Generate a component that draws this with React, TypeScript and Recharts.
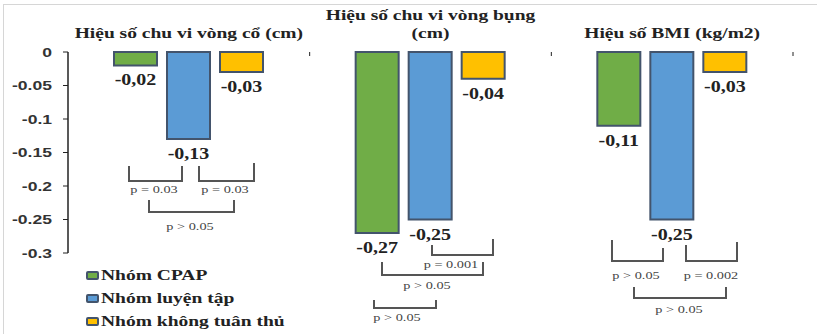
import React from "react";
import { BarChart, Bar, XAxis, YAxis, Legend, LabelList } from "recharts";

// --- data ---
const categories = ["Hiệu số chu vi vòng cổ (cm)", "Hiệu số chu vi vòng bụng (cm)", "Hiệu số BMI (kg/m2)"];
const titleLines = [["Hiệu số chu vi vòng cổ (cm)"], ["Hiệu số chu vi vòng bụng", "(cm)"], ["Hiệu số BMI (kg/m2)"]];
const cpap = [-0.02, -0.27, -0.11];
const luyenTap = [-0.13, -0.25, -0.25];
const khongTuanThu = [-0.03, -0.04, -0.03];
const yTicks = [0, -0.05, -0.1, -0.15, -0.2, -0.25, -0.3];

const seriesNames = ["Nhóm CPAP", "Nhóm luyện tập", "Nhóm không tuân thủ"];
const seriesColors = ["#70AD47", "#5B9BD5", "#FFC000"];

// significance brackets (annotation layout, pixels)
const brackets = [
  { x1: 129, t1: 166, x2: 182, t2: 166, b: 181, label: "p = 0.03", lx: 154, ly: 193 },
  { x1: 199, t1: 166, x2: 254, t2: 163, b: 181, label: "p = 0.03", lx: 225, ly: 193 },
  { x1: 149, t1: 200, x2: 234, t2: 200, b: 212, label: "p > 0.05", lx: 190, ly: 230 },
  { x1: 432, t1: 245, x2: 493, t2: 239, b: 255, label: "p = 0.001", lx: 451, ly: 268 },
  { x1: 382, t1: 262, x2: 483, t2: 262, b: 275, label: "p > 0.05", lx: 427, ly: 289 },
  { x1: 374, t1: 300, x2: 436, t2: 300, b: 308, label: "p > 0.05", lx: 397, ly: 321 },
  { x1: 612, t1: 240, x2: 663, t2: 248, b: 261, label: "p > 0.05", lx: 636, ly: 279 },
  { x1: 686, t1: 245, x2: 737, t2: 242, b: 261, label: "p = 0.002", lx: 711, ly: 279 },
  { x1: 634, t1: 287, x2: 726, t2: 287, b: 298, label: "p > 0.05", lx: 679, ly: 313 },
];

const data = categories.map((name, i) => ({
  name,
  cpap: cpap[i],
  luyenTap: luyenTap[i],
  khongTuanThu: khongTuanThu[i],
}));

const W = 817;
const H = 334;
const PLOT_LEFT = 68;
const PLOT_TOP = 52;
const PLOT_RIGHT = 793;
const CAT_W = (PLOT_RIGHT - PLOT_LEFT) / categories.length;
const SERIF = "'Liberation Serif', 'Times New Roman', serif";
const SANS = "'Liberation Sans', Arial, sans-serif";
const STRETCH = 1.3;
const BORDER = "#43546c";

const YTick = (props: any) => {
  const { x, y, payload } = props;
  return (
    <text
      transform={`translate(${x},${y}) scale(${STRETCH},1)`}
      textAnchor="end"
      dominantBaseline="central"
      fontFamily={SANS}
      fontWeight="bold"
      fontSize={13.5}
      fill="#333"
    >
      {String(payload.value)}
    </text>
  );
};

const ValueLabel = (props: any) => {
  const { x, y, width, height, value } = props;
  const bottom = Math.max(y, y + height);
  return (
    <text
      transform={`translate(${x + width / 2},${bottom + 20}) scale(1.25,1)`}
      textAnchor="middle"
      fontFamily={SERIF}
      fontWeight="bold"
      fontSize={16}
      fill="#222"
    >
      {Number(value).toFixed(2).replace(".", ",")}
    </text>
  );
};

const LegendContent = () => (
  <div style={{ fontFamily: SERIF, fontWeight: "bold", fontSize: 15, color: "#222" }}>
    {seriesNames.map((n, i) => (
      <div key={n} style={{ height: 23, display: "flex", alignItems: "center" }}>
        <span
          style={{
            width: 9,
            height: 5,
            border: `2px solid ${BORDER}`,
            borderRadius: 2,
            background: seriesColors[i],
            marginRight: 2,
          }}
        />
        <span style={{ transform: `scaleX(${STRETCH})`, transformOrigin: "left center", whiteSpace: "nowrap" }}>{n}</span>
      </div>
    ))}
  </div>
);

export default function App() {
  return (
    <div style={{ position: "absolute", left: 0, top: 0, width: W, height: H, background: "#fff", overflow: "hidden" }}>
      <div style={{ position: "absolute", left: 3, top: 4, width: 900, height: 400, border: "1px solid #d6d6d6" }} />
      <BarChart
        width={W}
        height={H}
        data={data}
        margin={{ top: PLOT_TOP, right: W - PLOT_RIGHT, bottom: 81, left: 0 }}
        barGap={10}
        barSize={43}
      >
        <XAxis
          dataKey="name"
          orientation="top"
          height={0}
          tick={false}
          tickLine={false}
          axisLine={{ stroke: "#222", strokeWidth: 1.5 }}
        />
        <YAxis
          width={PLOT_LEFT}
          domain={[-0.3, 0]}
          ticks={yTicks}
          interval={0}
          tickSize={5}
          tickMargin={11}
          tick={<YTick />}
          axisLine={{ stroke: "#222", strokeWidth: 1.5 }}
          tickLine={{ stroke: "#222", strokeWidth: 1 }}
        />
        <Legend
          layout="vertical"
          align="center"
          verticalAlign="middle"
          wrapperStyle={{ left: 86, top: 264, width: 250 }}
          content={<LegendContent />}
        />
        <Bar dataKey="cpap" name={seriesNames[0]} fill={seriesColors[0]} stroke={BORDER} strokeWidth={2} isAnimationActive={false}>
          <LabelList dataKey="cpap" content={<ValueLabel />} />
        </Bar>
        <Bar dataKey="luyenTap" name={seriesNames[1]} fill={seriesColors[1]} stroke={BORDER} strokeWidth={2} isAnimationActive={false}>
          <LabelList dataKey="luyenTap" content={<ValueLabel />} />
        </Bar>
        <Bar dataKey="khongTuanThu" name={seriesNames[2]} fill={seriesColors[2]} stroke={BORDER} strokeWidth={2} isAnimationActive={false}>
          <LabelList dataKey="khongTuanThu" content={<ValueLabel />} />
        </Bar>
      </BarChart>
      <svg width={W} height={H} style={{ position: "absolute", left: 0, top: 0, pointerEvents: "none" }}>
        {[1, 2, 3].map((k) => (
          <line key={k} x1={PLOT_LEFT + k * CAT_W} x2={PLOT_LEFT + k * CAT_W} y1={PLOT_TOP} y2={PLOT_TOP + 4} stroke="#222" strokeWidth={1} />
        ))}
        {titleLines.map((lines, i) =>
          lines.map((line, j) => (
            <text
              key={`${i}-${j}`}
              transform={`translate(${PLOT_LEFT + (i + 0.5) * CAT_W},${38 - (lines.length - 1 - j) * 18}) scale(${STRETCH},1)`}
              textAnchor="middle"
              fontFamily={SERIF}
              fontWeight="bold"
              fontSize={15}
              fill="#222"
            >
              {line}
            </text>
          ))
        )}
        {brackets.map((b, i) => (
          <g key={i}>
            <path d={`M${b.x1},${b.t1} V${b.b} H${b.x2} V${b.t2}`} fill="none" stroke="#555" strokeWidth={2} />
            <text
              transform={`translate(${b.lx},${b.ly}) scale(1.3,1)`}
              textAnchor="middle"
              fontFamily={SERIF}
              fontSize={11}
              fill="#444"
            >
              {b.label}
            </text>
          </g>
        ))}
      </svg>
    </div>
  );
}
